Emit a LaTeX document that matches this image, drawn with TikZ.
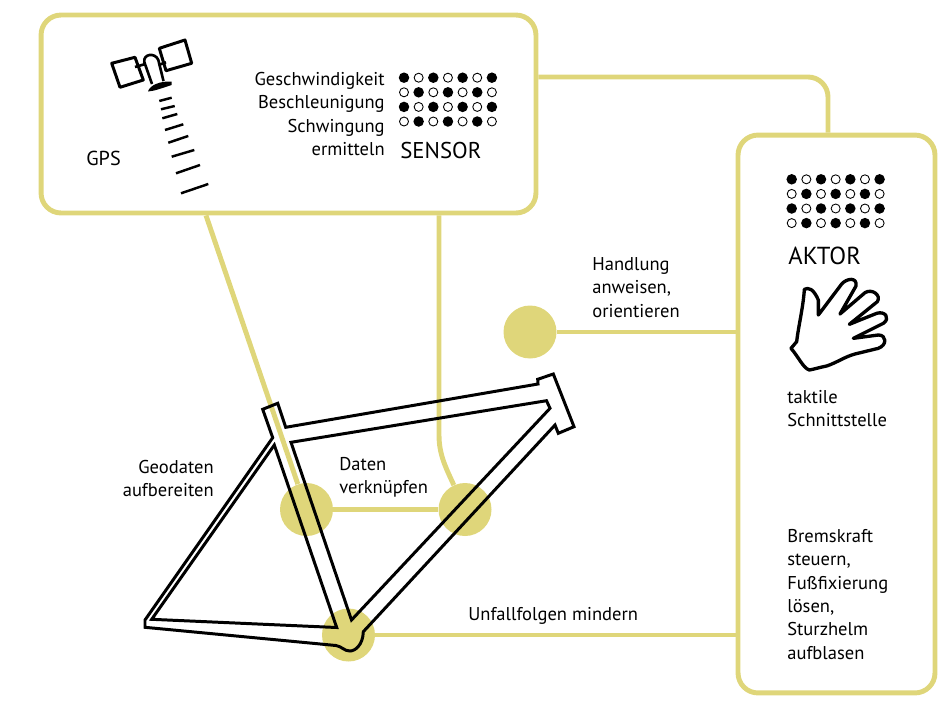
\documentclass[tikz,border=0pt]{standalone}
\usepackage{fontspec}
\setmainfont{PT Sans}

\tikzset{
	panelbox/.style={draw=signal,line width=2.8pt,rounded corners=0.4cm,inner sep=0pt},
	spot/.style={circle,fill=signal,minimum size=1.06cm,inner sep=0pt},
	link/.style={draw=signal,line width=2.8pt},
	frameline/.style={line width=1.7pt,line join=miter},
	caption/.style={font=\fontsize{10.55}{13.3}\selectfont,inner sep=0pt},
	title/.style={font=\fontsize{13}{16}\selectfont,inner sep=0pt}
}

\begin{document}
\begin{tikzpicture}[x=0.02cm,y=-0.02cm]

\definecolor{signal}{HTML}{DFD67A}

\useasboundingbox (0,0) rectangle (949,717);

\node[panelbox,minimum width=9.9cm,minimum height=3.96cm] (sensorbox) at (288.5,114) {};
\node[panelbox,minimum width=3.94cm,minimum height=11.16cm] (aktorbox) at (836.5,414) {};

\node[spot] (spotact) at (530,332) {};
\node[spot] (spotgeo) at (306.5,509.5) {};
\node[spot] (spotlink) at (465,509.5) {};
\node[spot] (spotfuse) at (348.5,635) {};

\draw[link,rounded corners=0.4cm] (sensorbox.east |- 0,77) -| (828,0 |- aktorbox.north);
\draw[link] (spotact) -- (spotact -| aktorbox.west);
\draw[link] (spotfuse) -- (spotfuse -| aktorbox.west);
\draw[link] (spotgeo) -- (spotlink);
\draw[link] (206,0 |- sensorbox.south) -- (spotgeo);
\draw[link] (439,0 |- sensorbox.south) -- (439,435) .. controls (439,455) and (446,468) .. (spotlink);

% bike frame
\draw[frameline] (272.7,437.7)--(262.7,409.3)--(277.7,403.3)--(285.7,427.3)--(538,384)
	--(537.7,379.3)--(553.3,374)--(574,426.7)--(558.3,433.3)--(555,425)--(363.3,631.7)
	.. controls (363,645) and (355,651) .. (350,651)
	.. controls (344,651) and (342,646.5) .. (336,645.5)
	--(145,627.3)--(145,620)--cycle;
\draw[frameline] (151.7,619.3)--(274.3,445)--(336.7,627.5)--cycle;
\draw[frameline] (291,442.3)--(546.5,400.7)--(550,408.3)--(351.5,620)--cycle;

% dot fields
\def\dotgrid#1#2{
	\foreach \c in {0,...,6}{
		\foreach \r in {0,...,3}{
			\pgfmathparse{int(mod(\c+\r,2))}
			\ifnum\pgfmathresult=0
				\fill ({#1+14.65*\c},{#2+14.6*\r}) circle (0.105cm);
			\else
				\draw[line width=0.5pt] ({#1+14.65*\c},{#2+14.6*\r}) circle (0.09cm);
			\fi
		}
	}
}
\dotgrid{404}{77.7}
\dotgrid{791.7}{179.3}

% satellite
\draw[line width=1.7pt,line join=round] (111.7,63.3)--(135,57.3)--(143.3,80)--(120,87.3)--cycle;
\draw[line width=1.7pt,line join=round] (159.3,48.3)--(185,40)--(191.7,63.3)--(166,70.7)--cycle;
\draw[line width=1.5pt] (135,67)--(144.3,64.3) (158.5,65)--(166,62.3);
\draw[line width=1.5pt] (152,84) -- (144.3,62)
	.. controls (143,54) and (155,52) .. (158.3,60)
	-- (163.5,81);
\fill (148,91.5) .. controls (150,85) and (160,81) .. (171.5,81.5)
	-- (171.7,85) .. controls (162,88) and (155,91) .. cycle;
\foreach \xa/\ya/\xb/\yb in {159.3/101/171.7/97.7,161/109.3/174.7/106,162.3/118.3/177.3/114,
	165/130/183.3/124.3,168.3/142.7/188.3/136,171.7/156.7/194.3/150,176/173.3/200/165,181/193.3/208.3/184}{
	\draw[line width=1.4pt] (\xa,\ya)--(\xb,\yb);
}

% hand
\begin{scope}[shift={(770,160)},x=0.00667cm,y=-0.00667cm]
\draw[line width=1.9pt,line join=round] (103,388) .. controls (115,382) and (130,385) .. (145,420)
	-- (145,465) -- (215,372) .. controls (230,355) and (262,350) .. (258,378)
	-- (210,462) -- (285,398) .. controls (305,385) and (335,405) .. (322,425)
	-- (238,493) -- (320,460) .. controls (345,452) and (362,475) .. (340,490)
	-- (250,535) -- (325,525) .. controls (350,525) and (352,555) .. (325,565)
	-- (255,582) .. controls (225,590) and (200,608) .. (170,618)
	.. controls (150,622) and (130,628) .. (118,630)
	.. controls (100,625) and (85,590) .. (63,565)
	-- (80,545) .. controls (85,500) and (100,440) .. cycle;
\end{scope}

% texts
\node[caption,anchor=north east,align=right] (sensortext) at (385,72) {Geschwindigkeit\\Beschleunigung\\Schwingung\\ermitteln};
\node[title,anchor=west] (sensorname) at (400,151) {SENSOR};
\node[caption,font=\fontsize{11.5}{14}\selectfont,anchor=west] (gpsname) at (86,158) {GPS};
\node[title,font=\fontsize{14}{16}\selectfont,anchor=west] (aktorname) at (788,256) {AKTOR};
\node[caption,anchor=north west,align=left] (tasktext) at (787,390) {taktile\\Schnittstelle};
\node[caption,anchor=north west,align=left] (brakertext) at (787,529) {Bremskraft\\steuern,\\Fußfixierung\\lösen,\\Sturzhelm\\aufblasen};
\node[caption,anchor=north west,align=left] (ordertext) at (592,257) {Handlung\\anweisen,\\orientieren};
\node[caption,anchor=north east,align=right] (geotext) at (214,460) {Geodaten\\aufbereiten};
\node[caption,anchor=north west,align=left] (linktext) at (339,457) {Daten\\verknüpfen};
\node[caption,anchor=west] (fusetext) at (468,616) {Unfallfolgen mindern};

\end{tikzpicture}
\end{document}
